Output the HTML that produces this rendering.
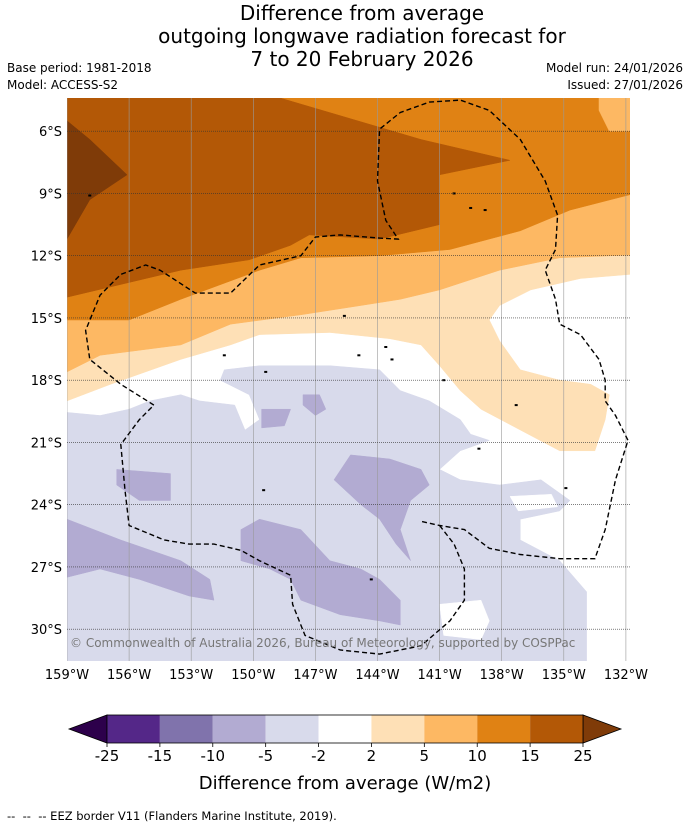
<!DOCTYPE html>
<html><head><meta charset="utf-8">
<style>
body{margin:0;background:#fff;width:690px;height:827px;overflow:hidden;font-family:"Liberation Sans","DejaVu Sans",sans-serif;}
svg text{font-family:"DejaVu Sans","Liberation Sans",sans-serif;}
</style></head>
<body>
<svg id="chart" width="690" height="827" viewBox="0 0 690 827" xmlns="http://www.w3.org/2000/svg">
<g font-size="20" text-anchor="middle" fill="#000">
<text x="362" y="20">Difference from average</text>
<text x="362" y="43">outgoing longwave radiation forecast for</text>
<text x="362" y="66">7 to 20 February 2026</text>
</g>
<g font-size="12">
<text x="7" y="72">Base period: 1981-2018</text>
<text x="7" y="89">Model: ACCESS-S2</text>
</g>
<g font-size="12" text-anchor="end">
<text x="683" y="72">Model run: 24/01/2026</text>
<text x="683" y="89">Issued: 27/01/2026</text>
</g>
<defs><clipPath id="mapclip"><rect x="67" y="98" width="563" height="563"/></clipPath></defs>
<g id="map" clip-path="url(#mapclip)"></g>
<g id="axes"></g>
<g id="cbar"></g>
<text x="345" y="789" font-size="18" text-anchor="middle">Difference from average (W/m2)</text>
<text x="7" y="820" font-size="11.5" style="white-space:pre">--  --  -- EEZ border V11 (Flanders Marine Institute, 2019).</text>
</svg>
<script>
// ---- data ----
const lonTicks = [-159,-156,-153,-150,-147,-144,-141,-138,-135,-132];
const latTicks = [-6,-9,-12,-15,-18,-21,-24,-27,-30];
const levels = [-25,-15,-10,-5,-2,2,5,10,15,25];
const levelColors = ['#542788','#8073ac','#b2abd2','#d8daeb','#ffffff','#fee0b6','#fdb863','#e08214','#b35806'];
const extendLow = '#2d004b';
const extendHigh = '#7f3b08';
const peach25 = [[-161,-3],[-130,-3],[-130,-12.9],[-131.8,-12.9],[-134.2,-13.1],[-136.6,-13.65],[-138.1,-14.4],[-138.6,-15.1],[-138.1,-16.1],[-137.1,-17.5],[-135.2,-18],[-133.7,-18.2],[-132.8,-18.7],[-133,-19.9],[-133.5,-21.4],[-135.2,-21.4],[-137.1,-20.4],[-139,-19.4],[-140,-18.5],[-141,-17.3],[-141.9,-16.3],[-143.4,-16],[-146.3,-15.7],[-149.7,-15.8],[-151.1,-16.3],[-153.5,-17],[-156.9,-18.2],[-159,-19],[-161,-19]];
const lightOrange510 = [[-161,-3],[-130,-3],[-130,-11.9],[-135.2,-12.1],[-138.1,-12.7],[-141,-13.65],[-142.9,-14.1],[-144.8,-14.4],[-147.7,-14.85],[-151.1,-15.3],[-153.5,-16.3],[-157.4,-16.8],[-159,-17.6],[-161,-17.6]];
const orange1015 = [[-161,-3],[-130,-3],[-130,-8.6],[-134.7,-9.8],[-137.1,-10.8],[-140.5,-11.7],[-143.9,-12],[-147.7,-12.1],[-149.7,-12.7],[-153.5,-14.1],[-156,-15.1],[-161,-15.1]];
const cornerLightOrange = [[-133.3,-3],[-130,-3],[-130,-6],[-132.8,-6],[-133.3,-5]];
const dark1525 = [[-161,-3],[-148.7,-3],[-148.7,-4.4],[-141.9,-6.4],[-137.6,-7.4],[-141,-8.1],[-141,-10.5],[-143.9,-11.2],[-147.3,-11],[-148.2,-11.5],[-150.2,-12.2],[-153.5,-12.7],[-159,-14],[-161,-14]];
const darkest25 = [[-161,-5.5],[-159,-5.5],[-157.9,-6.4],[-156.1,-8.1],[-157.9,-9.3],[-159,-11.2],[-161,-11.2]];
const lavender = [[-161,-19.55],[-159,-19.55],[-157.4,-19.7],[-156,-19.4],[-155,-19],[-153.5,-18.7],[-152.6,-19],[-150.9,-19.2],[-150.4,-20.4],[-149.7,-19.9],[-150.2,-18.7],[-151.6,-18],[-151.4,-17.5],[-149.7,-17.3],[-146.3,-17.3],[-143.9,-17.5],[-142.9,-18.5],[-141.5,-19],[-140,-19.9],[-139.5,-20.6],[-138.6,-20.9],[-140,-21.4],[-141,-22.3],[-140,-22.8],[-138.1,-23.05],[-136.1,-22.8],[-134.7,-23.8],[-135.2,-24.3],[-137.1,-24.7],[-137.1,-25.7],[-135.2,-26.7],[-133.9,-28.2],[-133.9,-29.3],[-133.9,-33.4],[-161,-33.4]];
const whiteHole = [[-141,-28.8],[-139,-28.6],[-138.6,-29.6],[-139,-30.5],[-140.8,-30.3]];
const whiteHole2 = [[-137.6,-23.6],[-135.6,-23.5],[-135.3,-24.1],[-137.2,-24.3]];
const purple1 = [[-161,-24.7],[-159,-24.7],[-156.4,-25.7],[-153.5,-26.7],[-152.1,-27.6],[-151.9,-28.6],[-153.1,-28.4],[-155.5,-27.6],[-157.4,-27.1],[-159,-27.5],[-161,-27.5]];
const purple2 = [[-150.6,-25.2],[-149.7,-24.7],[-147.7,-25.2],[-146.3,-26.7],[-144.8,-27.1],[-143.9,-27.6],[-142.9,-28.6],[-142.9,-29.8],[-143.9,-29.6],[-145.8,-29.3],[-147.7,-28.6],[-148.2,-27.6],[-149.2,-27.1],[-150.6,-26.7]];
const purple3 = [[-146.1,-22.8],[-145.3,-21.6],[-143.4,-21.8],[-141.9,-22.3],[-141.5,-23.05],[-142.4,-23.8],[-142.9,-25.2],[-142.4,-26.7],[-143.1,-25.9],[-143.9,-24.7],[-144.8,-24]];
const purple4 = [[-156.6,-22.3],[-154,-22.5],[-154,-23.8],[-155.5,-23.8],[-156.6,-23.05]];
const purple5 = [[-149.6,-19.4],[-148.2,-19.4],[-148.5,-20.2],[-149.6,-20.3]];
const purple6 = [[-147.6,-18.7],[-146.8,-18.7],[-146.5,-19.4],[-147,-19.7],[-147.6,-19.2]];
const eezNorth = [[-154.8,-19.2],[-156.4,-18.2],[-157.9,-17],[-158.1,-15.6],[-157.4,-13.9],[-156.4,-12.9],[-155.2,-12.45],[-154.5,-12.7],[-152.8,-13.8],[-151.1,-13.8],[-149.7,-12.45],[-147.7,-12],[-147,-11.1],[-145.8,-11],[-143.9,-11.15],[-143,-11.2],[-143.6,-10.3],[-144,-8.4],[-143.9,-5.9],[-142.9,-5.1],[-141.5,-4.6],[-140,-4.5],[-138.6,-5],[-137.1,-6.4],[-135.9,-8.4],[-135.3,-10.05],[-135.4,-11.7],[-135.9,-12.7],[-135.4,-14.1],[-135.2,-15.3],[-134.2,-15.8],[-133.3,-17],[-133,-18],[-133,-19],[-132.5,-19.7],[-131.9,-20.9],[-132.5,-22.8],[-133,-25.2],[-133.5,-26.6],[-135.2,-26.6],[-137.1,-26.4],[-138.6,-26.1],[-139.8,-25.2],[-141,-25],[-141.9,-24.8]];
const eezSouth = [[-141,-25],[-140.3,-25.9],[-139.8,-27.1],[-139.8,-28.6],[-140.5,-29.6],[-141.9,-30.8],[-143.9,-31.2],[-145.8,-31],[-147.5,-30.3],[-148.1,-28.8],[-148.2,-27.4],[-149.7,-26.7],[-150.6,-26.2],[-151.9,-25.9],[-153.1,-25.9],[-154.3,-25.7],[-156,-25],[-156.2,-23.3],[-156.4,-21.1],[-155.5,-19.9],[-154.8,-19.2]];
const islands = [[-157.9,-9.1],[-140.3,-9.0],[-139.5,-9.7],[-138.8,-9.8],[-145.6,-14.9],[-144.9,-16.8],[-143.3,-17.0],[-149.4,-17.6],[-140.8,-18.0],[-139.1,-21.3],[-144.3,-27.6],[-149.5,-23.3],[-134.9,-23.2],[-137.3,-19.2],[-143.6,-16.4],[-151.4,-16.8]];

// ---- axis functions ----
const X = lon => 67 + (lon + 159) * 20.7;
const Y = lat => 98 + (-4.4 - lat) * 20.75;
const NS = 'http://www.w3.org/2000/svg';
function mk(tag, attrs, parent){const e=document.createElementNS(NS,tag);for(const k in attrs)e.setAttribute(k,attrs[k]);parent.appendChild(e);return e;}
const pts = arr => arr.map(p => X(p[0]).toFixed(1)+','+Y(p[1]).toFixed(1)).join(' ');
const map = document.getElementById('map');
const axes = document.getElementById('axes');
const cbar = document.getElementById('cbar');

let bg = mk('rect',{x:67,y:98,width:563,height:563,fill:'#fff'},map);



const layers = [
 ['contour-2-to-5', peach25, levelColors[5]],
 ['contour-5-to-10', lightOrange510, levelColors[6]],
 ['contour-10-to-15', orange1015, levelColors[7]],
 ['contour-5-to-10-corner', cornerLightOrange, levelColors[6]],
 ['contour-15-to-25', dark1525, levelColors[8]],
 ['contour-above-25', darkest25, extendHigh],
 ['contour-minus5-to-minus2', lavender, levelColors[3]],
 ['contour-white-hole', whiteHole, levelColors[4]],
 ['contour-white-hole-2', whiteHole2, levelColors[4]],
 ['contour-minus10-to-minus5-a', purple1, levelColors[2]],
 ['contour-minus10-to-minus5-b', purple2, levelColors[2]],
 ['contour-minus10-to-minus5-c', purple3, levelColors[2]],
 ['contour-minus10-to-minus5-d', purple4, levelColors[2]],
 ['contour-minus10-to-minus5-e', purple5, levelColors[2]],
 ['contour-minus10-to-minus5-f', purple6, levelColors[2]]
];
layers.forEach(l => {
  const p = mk('polygon',{points:pts(l[1]),fill:l[2],stroke:l[2],'stroke-width':0.5},map);
  
  
});

islands.forEach(c => {
  const r = mk('rect',{x:X(c[0])-1.5,y:Y(c[1])-1,width:3,height:2,fill:'#000'},map);
  
  
});

lonTicks.forEach(lon => {
  const l = mk('line',{x1:X(lon),x2:X(lon),y1:98,y2:661,stroke:'#999','stroke-width':0.6},map);
  
  
});
latTicks.forEach(lat => {
  const l = mk('line',{x1:67,x2:630,y1:Y(lat),y2:Y(lat),stroke:'#333','stroke-width':0.6,'stroke-dasharray':'1,1'},map);
  
  
});

[['eez-border-north', eezNorth],['eez-border-south', eezSouth]].forEach(e => {
  const p = mk('polyline',{points:pts(e[1]),fill:'none',stroke:'#000','stroke-width':1.4,'stroke-dasharray':'5,3'},map);
  
  
});

let cr = mk('text',{x:70,y:647,'font-size':12,fill:'#777'},map);
cr.textContent = '© Commonwealth of Australia 2026, Bureau of Meteorology, supported by COSPPac';



lonTicks.forEach(lon => {
  const t = mk('text',{x:X(lon),y:679,'font-size':13,'text-anchor':'middle'},axes);
  t.textContent = Math.abs(lon) + '°W';
  
  
});
latTicks.forEach(lat => {
  const t = mk('text',{x:62,y:Y(lat)+5,'font-size':13,'text-anchor':'end'},axes);
  t.textContent = Math.abs(lat) + '°S';
  
  
});

const cbL = 107, cbR = 583, cbT = 715, cbB = 743;
const segW = (cbR - cbL) / levelColors.length;
let tl = mk('polygon',{points:`69,729 ${cbL},${cbT} ${cbL},${cbB}`,fill:extendLow,stroke:'#000','stroke-width':0.8},cbar);


let tr = mk('polygon',{points:`621,729 ${cbR},${cbT} ${cbR},${cbB}`,fill:extendHigh,stroke:'#000','stroke-width':0.8},cbar);


levelColors.forEach((c,i) => {
  const r = mk('rect',{x:cbL+i*segW,y:cbT,width:segW,height:cbB-cbT,fill:c},cbar);
  
  
});
let frame = mk('rect',{x:cbL,y:cbT,width:cbR-cbL,height:cbB-cbT,fill:'none',stroke:'#000','stroke-width':0.8},cbar);


levels.forEach((v,i) => {
  const x = cbL + i*segW;
  const tk = mk('line',{x1:x,x2:x,y1:cbB,y2:cbB+4,stroke:'#000','stroke-width':0.8},cbar);
  
  
  const t = mk('text',{x:x,y:761,'font-size':15,'text-anchor':'middle'},cbar);
  t.textContent = v;
  
  
});
</script>
</body></html>
